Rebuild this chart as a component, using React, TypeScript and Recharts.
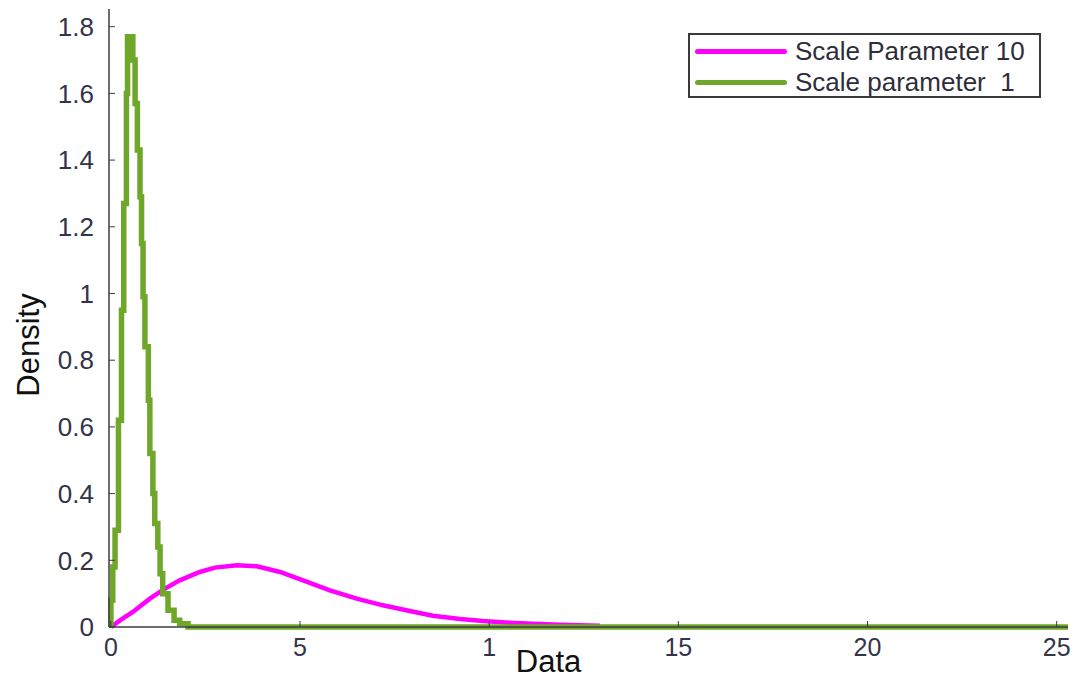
import React from 'react';
import { LineChart, Line, XAxis, YAxis, Legend, Label } from 'recharts';

// scale parameter 10 (magenta curve)
const scale10X = [0, 0.24, 0.58, 1.03, 1.43, 1.82, 2.35, 2.75, 3.33, 3.86, 4.47, 5.08, 5.79, 6.5, 7.19, 7.9, 8.51, 9.23, 9.83, 10.55, 11.15, 11.87, 12.93];
const scale10Density = [0, 0.02, 0.045, 0.085, 0.115, 0.14, 0.165, 0.178, 0.185, 0.182, 0.165, 0.14, 0.11, 0.085, 0.065, 0.048, 0.034, 0.024, 0.018, 0.013, 0.01, 0.007, 0.004];

// scale parameter 1 (green stairs)
const scale1X = [0, 0, 0.05, 0.11, 0.2, 0.28, 0.34, 0.41, 0.44, 0.58, 0.64, 0.7, 0.77, 0.81, 0.85, 0.9, 0.99, 1.03, 1.11, 1.16, 1.24, 1.3, 1.37, 1.51, 1.67, 1.82, 2.04, 25.3];
const scale1Density = [0, 0.08, 0.18, 0.29, 0.62, 0.95, 1.27, 1.6, 1.77, 1.7, 1.57, 1.43, 1.29, 1.15, 0.99, 0.84, 0.68, 0.52, 0.4, 0.31, 0.24, 0.16, 0.1, 0.05, 0.02, 0.01, 0, 0];

const xTicks = [0, 5, 10, 15, 20, 25];
const xTickLabels = ['0', '5', '1', '15', '20', '25'];
const yTicks = [0, 0.2, 0.4, 0.6, 0.8, 1, 1.2, 1.4, 1.6, 1.8];

const seriesNames = ['Scale Parameter 10', 'Scale parameter  1'];
const seriesColors = ['#ff00ff', '#6fa72b'];

const font = '"Liberation Sans", Arial, sans-serif';

const scale10 = scale10X.map((x, i) => ({ x, y: scale10Density[i] }));
const scale1 = scale1X.map((x, i) => ({ x, y: scale1Density[i] }));

const renderLegend = () => (
  <div
    style={{
      width: 353,
      height: 65,
      boxSizing: 'border-box',
      border: '2px solid #3a3a3a',
      background: '#fff',
      padding: '1px 6px 0 5px',
      fontFamily: font,
      fontSize: 26,
      lineHeight: '31px',
      color: '#2e2e3a',
    }}
  >
    {seriesNames.map((name, i) => (
      <div key={name} style={{ display: 'flex', alignItems: 'center', whiteSpace: 'pre' }}>
        <span
          style={{
            display: 'inline-block',
            width: 92,
            height: 5,
            borderRadius: 3,
            background: seriesColors[i],
            marginRight: 8,
          }}
        />
        {name}
      </div>
    ))}
  </div>
);

const YTitle = (props: any) => {
  const { x, y, height } = props.viewBox;
  const cx = x + 28;
  const cy = y + height / 2 + 27;
  return (
    <text
      x={cx}
      y={cy}
      transform={`rotate(-90 ${cx} ${cy})`}
      textAnchor="middle"
      dominantBaseline="central"
      fontFamily={font}
      fontSize={31}
      fill="#111"
    >
      Density
    </text>
  );
};

const XTitle = (props: any) => {
  const { x, y, width } = props.viewBox;
  return (
    <text x={x + width / 2 - 40} y={y + 45} textAnchor="middle" fontFamily={font} fontSize={31} fill="#111">
      Data
    </text>
  );
};

const xTickStyle = { fontFamily: font, fontSize: 25, fill: '#33334a' };
const yTickStyle = { fontFamily: font, fontSize: 26, fill: '#33334a' };
const axisLine = { stroke: '#3c3c3c', strokeWidth: 1.5 };

export default function App() {
  return (
    <div style={{ position: 'absolute', left: 0, top: 0 }}>
      <LineChart width={1077} height={683} margin={{ top: 9, right: 9, left: 0, bottom: 0 }}>
        <XAxis
          xAxisId="bottom"
          type="number"
          dataKey="x"
          domain={[-0.05, 25.3]}
          ticks={xTicks}
          height={56}
          tickSize={-6}
          tickMargin={17}
          tick={xTickStyle}
          tickLine={{ stroke: '#3c3c3c' }}
          axisLine={axisLine}
          tickFormatter={(v: number) => xTickLabels[xTicks.indexOf(v)]}
        >
          <Label content={XTitle} />
        </XAxis>
        <XAxis
          xAxisId="top"
          orientation="top"
          type="number"
          dataKey="x"
          domain={[-0.05, 25.3]}
          ticks={xTicks}
          height={0}
          tickSize={-6}
          tick={false}
          tickLine={{ stroke: '#3c3c3c' }}
          axisLine={axisLine}
        />
        <YAxis
          yAxisId="left"
          type="number"
          domain={[0, 1.853]}
          ticks={yTicks}
          width={109}
          tickSize={-6}
          tickMargin={21}
          tick={yTickStyle}
          tickLine={{ stroke: '#3c3c3c' }}
          axisLine={axisLine}
        >
          <Label content={YTitle} />
        </YAxis>
        <YAxis
          yAxisId="right"
          orientation="right"
          type="number"
          domain={[0, 1.853]}
          ticks={yTicks}
          width={0}
          tickSize={-6}
          tick={false}
          tickLine={{ stroke: '#3c3c3c' }}
          axisLine={axisLine}
        />
        <Legend
          layout="vertical"
          align="center"
          verticalAlign="middle"
          content={renderLegend}
          wrapperStyle={{ left: 688, top: 33, right: 'auto', bottom: 'auto', width: 'auto', height: 'auto' }}
        />
        <Line
          xAxisId="bottom"
          yAxisId="left"
          data={scale10}
          dataKey="y"
          name={seriesNames[0]}
          type="linear"
          stroke={seriesColors[0]}
          strokeWidth={4.5}
          dot={false}
          isAnimationActive={false}
        />
        <Line
          xAxisId="bottom"
          yAxisId="left"
          data={scale1}
          dataKey="y"
          name={seriesNames[1]}
          type="stepAfter"
          stroke={seriesColors[1]}
          strokeWidth={5.5}
          dot={false}
          isAnimationActive={false}
        />
      </LineChart>
    </div>
  );
}
